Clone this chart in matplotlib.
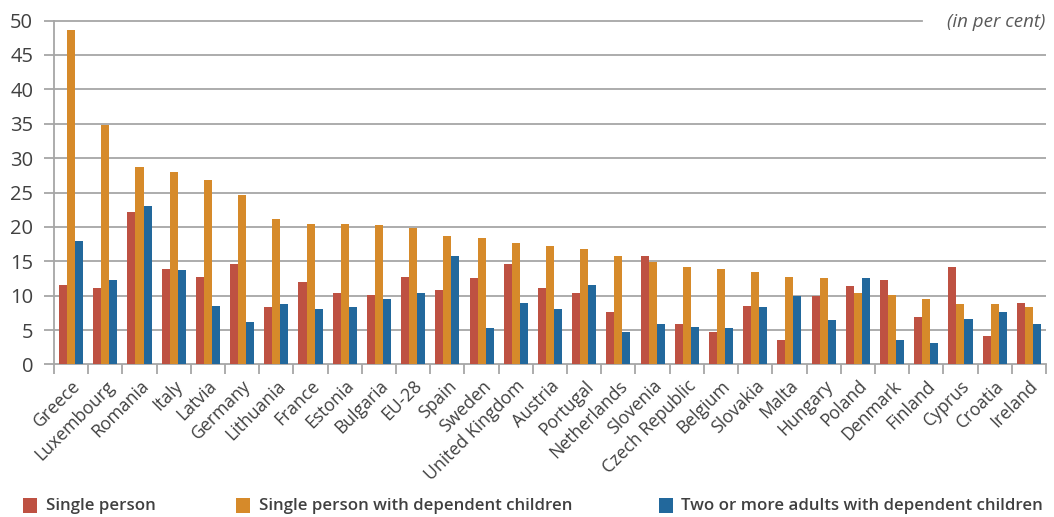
import numpy as np
import matplotlib.pyplot as plt

plt.rcParams["font.family"] = ["Open Sans", "DejaVu Sans"]

countries = ["Greece", "Luxembourg", "Romania", "Italy", "Latvia", "Germany", "Lithuania",
             "France", "Estonia", "Bulgaria", "EU-28", "Spain", "Sweden", "United Kingdom",
             "Austria", "Portugal", "Netherlands", "Slovenia", "Czech Republic", "Belgium",
             "Slovakia", "Malta", "Hungary", "Poland", "Denmark", "Finland", "Cyprus",
             "Croatia", "Ireland"]
single = [11.5, 11.1, 22.1, 13.9, 12.7, 14.6, 8.3, 12.0, 10.4, 10.1, 12.7, 10.8, 12.5, 14.6,
          11.1, 10.4, 7.6, 15.7, 5.9, 4.7, 8.5, 3.5, 9.9, 11.4, 12.3, 6.9, 14.1, 4.1, 8.9]
single_kids = [48.6, 34.8, 28.7, 28.0, 26.8, 24.6, 21.1, 20.4, 20.4, 20.3, 19.9, 18.7, 18.4, 17.6,
               17.2, 16.8, 15.7, 14.9, 14.1, 13.9, 13.4, 12.7, 12.5, 10.4, 10.1, 9.5, 8.8, 8.8, 8.3]
two_adults = [17.9, 12.3, 23.0, 13.7, 8.5, 6.2, 8.8, 8.0, 8.3, 9.5, 10.4, 15.7, 5.3, 8.9,
              8.0, 11.5, 4.7, 5.9, 5.4, 5.3, 8.3, 9.9, 6.4, 12.5, 3.5, 3.1, 6.6, 7.6, 5.9]
series_names = ["Single person", "Single person with dependent children",
                "Two or more adults with dependent children"]
colors = ["#BE5142", "#D68A2A", "#22689C"]
grey = "#A6A6A6"
txt = "#404040"

fig = plt.figure(figsize=(10.54, 5.17), dpi=100)
ax = fig.add_axes([0.0512, 0.295, 0.9412, 0.6653])

x = np.arange(len(countries))
w = 0.235
for k, (vals, c) in enumerate(zip([single, single_kids, two_adults], colors)):
    ax.bar(x + (k - 1) * w, vals, width=w, color=c, linewidth=0, zorder=3)

ax.set_xlim(-0.5, len(countries) - 0.5)
ax.set_ylim(0, 50)

# gridlines (top one shortened for the unit note)
for v in range(5, 50, 5):
    ax.axhline(v, color=grey, lw=1.3, zorder=1)
ax.axhline(50, xmax=0.875, color=grey, lw=1.3, zorder=1, clip_on=False)

for s in ["top", "right"]:
    ax.spines[s].set_visible(False)
for s in ["left", "bottom"]:
    ax.spines[s].set_color(grey)
    ax.spines[s].set_linewidth(1.3)

ax.set_yticks(range(0, 51, 5))
ax.tick_params(axis="y", length=7, width=1.3, color=grey, labelsize=14.5, labelcolor=txt, pad=8)
ax.set_xticks(x)
ax.set_xticklabels(countries, rotation=45, ha="right", rotation_mode="anchor",
                   fontsize=12.7, color=txt)
ax.tick_params(axis="x", which="major", length=0, pad=9)
ax.set_xticks(np.arange(-0.5, len(countries), 1), minor=True)
ax.tick_params(axis="x", which="minor", length=7, width=1.3, color=grey)

fig.text(0.992, 0.957, "(in per cent)", ha="right", va="center", fontsize=13.5,
         style="italic", color="#595959")

# legend
leg_x = [0.022, 0.224, 0.625]
for lx, name, c in zip(leg_x, series_names, colors):
    fig.patches.append(plt.Rectangle((lx, 0.008), 0.0135, 0.028, transform=fig.transFigure,
                                     facecolor=c, edgecolor="none"))
    fig.text(lx + 0.0215, 0.021, name, ha="left", va="center", fontsize=12.2,
             fontweight="semibold", color=txt)

fig.savefig("out.png", dpi=100)
